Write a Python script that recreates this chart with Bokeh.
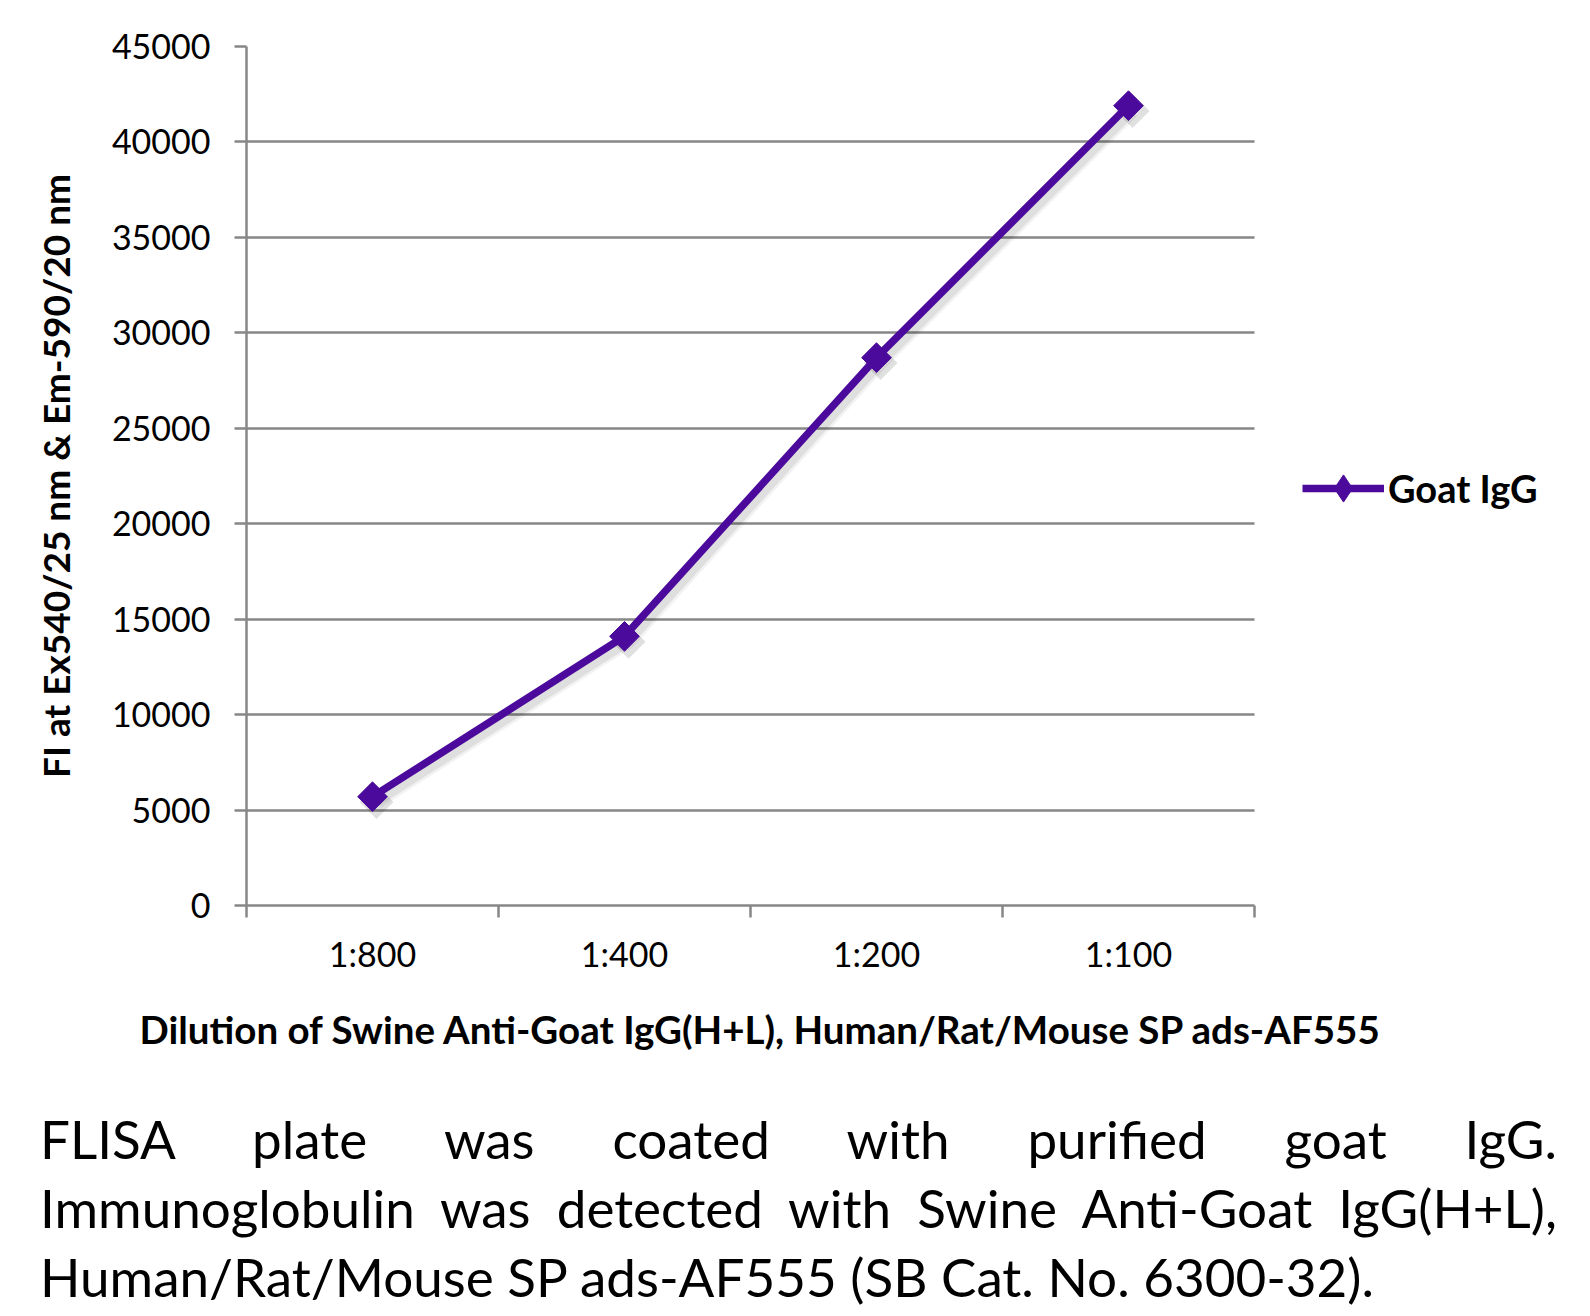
import numpy as np
from bokeh.plotting import figure
from bokeh.layouts import column
from bokeh.models import (Range1d, FixedTicker, Legend, LegendItem, ColumnDataSource, Div,
                          Title, BoxAnnotation)
from bokeh.transform import dodge
from bokeh.embed import file_html
from bokeh.resources import INLINE

# ---------------- data ----------------
categories = ["1:800", "1:400", "1:200", "1:100"]
goat_igg = [5700, 14100, 28700, 41900]
y_ticks = [0, 5000, 10000, 15000, 20000, 25000, 30000, 35000, 40000, 45000]
series_name = "Goat IgG"
x_title = "Dilution of Swine Anti-Goat IgG(H+L), Human/Rat/Mouse SP ads-AF555"
y_title = "FI at Ex540/25 nm & Em-590/20 nm"
caption_line1 = "FLISA plate was coated with purified goat IgG."
caption_line2 = "Immunoglobulin was detected with Swine Anti-Goat IgG(H+L),"
caption_line3 = "Human/Rat/Mouse SP ads-AF555 (SB Cat. No. 6300-32)."

# ---------------- layout / style ----------------
PURPLE = "#4B0A9C"
GRAY = "#878787"
FONT = "Lato"
W = 1574
H1 = 1080          # chart figure height
H2 = 228           # caption height
# plot area in page coords (the frame itself extends to the right edge so the
# legend can live inside it; the area right of the last category is masked)
PL, PT, PR, PB = 246, 46, 1254, 905

n = len(categories)
xs = [i + 0.5 for i in range(n)]
src = ColumnDataSource(dict(x=xs, y=goat_igg))
x_end = n * (W - PL) / (PR - PL)

p = figure(width=W, height=H1,
           x_range=Range1d(0, x_end), y_range=Range1d(y_ticks[0], y_ticks[-1]),
           output_backend="svg", toolbar_location=None,
           min_border_left=PL, min_border_top=PT,
           min_border_right=0, min_border_bottom=H1 - PB)
p.outline_line_color = None
p.background_fill_color = "white"
p.border_fill_color = "white"

# grid
p.xgrid.visible = False
p.ygrid.ticker = FixedTicker(ticks=y_ticks)
p.ygrid.grid_line_color = GRAY
p.ygrid.grid_line_width = 2.5
# hide grid lines beyond the last category
p.add_layout(BoxAnnotation(left=n, fill_color="white", fill_alpha=1.0,
                           line_color=None, level="underlay"))

# x axis: labels at category centres, ticks at category boundaries
xa = p.xaxis[0]
xa.bounds = (0, n)
xa.ticker = FixedTicker(ticks=xs, minor_ticks=list(range(n + 1)))
xa.major_label_overrides = {x: c for x, c in zip(xs, categories)}
xa.major_tick_out = 0
xa.major_tick_in = 0
xa.minor_tick_out = 12
xa.minor_tick_in = 0
xa.minor_tick_line_color = GRAY
xa.minor_tick_line_width = 2.5
xa.axis_line_color = GRAY
xa.axis_line_width = 2.5
xa.major_label_text_font = FONT
xa.major_label_text_font_size = "34px"
xa.major_label_text_color = "black"
xa.major_label_standoff = 15

# x-axis title (as a bottom title so it can be centred on the category span)
p.add_layout(Title(text=x_title, align="left", offset=139 - PL, standoff=54,
                   text_font=FONT, text_font_size="38.5px", text_font_style="bold",
                   text_color="black"), "below")

# y axis
ya = p.yaxis[0]
ya.ticker = FixedTicker(ticks=y_ticks, minor_ticks=[])
ya.major_tick_out = 12
ya.major_tick_in = 0
ya.major_tick_line_color = GRAY
ya.major_tick_line_width = 2.5
ya.minor_tick_line_color = None
ya.axis_line_color = GRAY
ya.axis_line_width = 2.5
ya.major_label_text_font = FONT
ya.major_label_text_font_size = "34px"
ya.major_label_text_color = "black"
ya.major_label_standoff = 24
ya.axis_label = y_title
ya.axis_label_text_font = FONT
ya.axis_label_text_font_style = "bold"
ya.axis_label_text_font_size = "37px"
ya.axis_label_text_color = "black"
ya.axis_label_standoff = 31

# soft shadow
for lw, a in [(14, 0.05), (9, 0.08)]:
    p.line(x=dodge("x", 0.016, range=p.x_range), y=dodge("y", -280, range=p.y_range),
           source=src, line_width=lw, line_color="black", line_alpha=a)
p.scatter(x=dodge("x", 0.016, range=p.x_range), y=dodge("y", -280, range=p.y_range),
          source=src, marker="square", size=24, angle=np.pi / 4,
          fill_color="black", fill_alpha=0.12, line_color=None)

# series
line_r = p.line("x", "y", source=src, line_width=7.5, line_color=PURPLE)
pts_r = p.scatter("x", "y", source=src, marker="square", size=21, angle=np.pi / 4,
                  fill_color=PURPLE, line_color=PURPLE)
# legend symbol (diamond) - not drawn in the plot area
leg_pts = p.scatter("x", "y", source=src, marker="diamond", size=27,
                    fill_color=PURPLE, line_color=PURPLE, visible=False)

legend = Legend(items=[LegendItem(label=series_name, renderers=[line_r, leg_pts])],
                location=(1302 - PL, PB - 522),
                glyph_width=82, glyph_height=68, label_height=40,
                label_standoff=4, padding=0, margin=0, spacing=0,
                border_line_color=None, background_fill_alpha=0,
                label_text_font=FONT, label_text_font_size="38px",
                label_text_font_style="bold", label_text_color="black")
p.add_layout(legend, "center")

# ---------------- caption ----------------
just = "text-align:justify;text-align-last:justify;white-space:nowrap;"
caption_html = (
    '<div style="font-family:Lato,sans-serif;font-size:53px;line-height:69px;color:#000;'
    'width:1517px;margin:0 0 0 40px;padding-top:24px;">'
    f'<div style="{just}">{caption_line1}</div>'
    f'<div style="{just}">{caption_line2}</div>'
    f'<div style="white-space:nowrap;">{caption_line3}</div>'
    '</div>'
)
caption = Div(text=caption_html, width=W, height=H2, margin=0)

layout = column(p, caption, spacing=0)
open("out.html", "w").write(file_html(layout, INLINE))
